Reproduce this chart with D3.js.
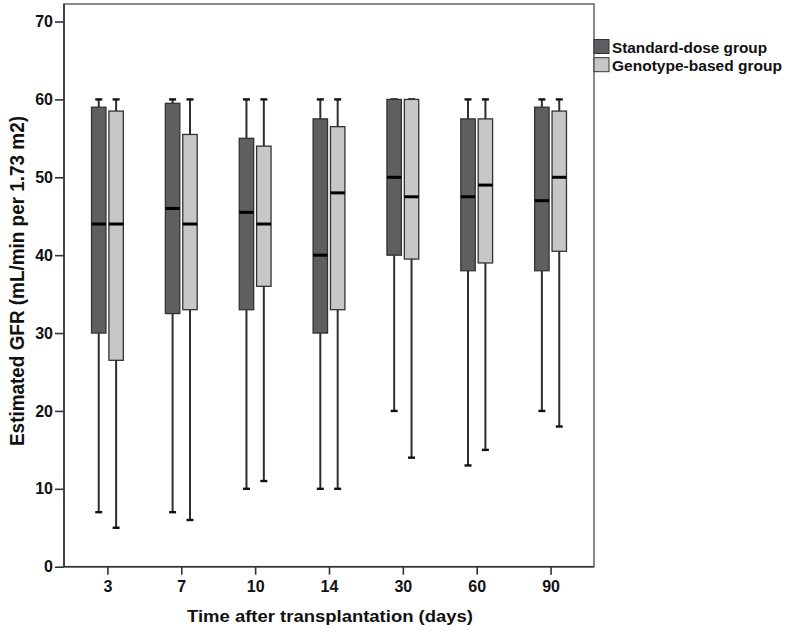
<!DOCTYPE html>
<html>
<head>
<meta charset="utf-8">
<script src="https://cdn.jsdelivr.net/npm/d3@7"></script>
<style>
  html, body { margin: 0; padding: 0; background: #fff; }
  svg { display: block; }
  text { font-family: "Liberation Sans", Arial, sans-serif; font-weight: bold; fill: #111; }
</style>
</head>
<body>
<svg id="chart" width="786" height="632"></svg>
<script>
// Days after transplantation (x categories)
const days = ["3", "7", "10", "14", "30", "60", "90"];
const groups = ["Standard-dose group", "Genotype-based group"];
const yTicks = [0, 10, 20, 30, 40, 50, 60, 70];

// Standard-dose group: five-number summaries per day
const stdMin    = [7, 7, 10, 10, 20, 13, 20];
const stdQ1     = [30, 32.5, 33, 30, 40, 38, 38];
const stdMedian = [44, 46, 45.5, 40, 50, 47.5, 47];
const stdQ3     = [59, 59.5, 55, 57.5, 60, 57.5, 59];
const stdMax    = [60, 60, 60, 60, 60, 60, 60];

// Genotype-based group: five-number summaries per day
const genoMin    = [5, 6, 11, 10, 14, 15, 18];
const genoQ1     = [26.5, 33, 36, 33, 39.5, 39, 40.5];
const genoMedian = [44, 44, 44, 48, 47.5, 49, 50];
const genoQ3     = [58.5, 55.5, 54, 56.5, 60, 57.5, 58.5];
const genoMax    = [60, 60, 60, 60, 60, 60, 60];

const groupColors = ["#5d5f61", "#c6c7c7"];

const stats = [
  { min: stdMin, q1: stdQ1, med: stdMedian, q3: stdQ3, max: stdMax },
  { min: genoMin, q1: genoQ1, med: genoMedian, q3: genoQ3, max: genoMax }
];

const boxes = [];
days.forEach((d, i) => {
  groups.forEach((g, j) => {
    const s = stats[j];
    boxes.push({ day: d, group: g, min: s.min[i], q1: s.q1[i], med: s.med[i], q3: s.q3[i], max: s.max[i] });
  });
});

const svg = d3.select("#chart");
const plotLeft = 64, plotRight = 594, plotTop = 4, plotBottom = 566.7;

const x = d3.scalePoint().domain(days).range([plotLeft, plotRight]).padding(0.588);
const xg = d3.scaleBand().domain(groups).range([-15.9, 15.9]).paddingInner(0.17);
const y = d3.scaleLinear().domain([0, 72.25]).range([plotBottom, plotTop]);
const color = d3.scaleOrdinal().domain(groups).range(groupColors);

// plot frame
svg.append("rect")
  .attr("x", plotLeft).attr("y", plotTop)
  .attr("width", plotRight - plotLeft).attr("height", plotBottom - plotTop)
  .attr("fill", "none").attr("stroke", "#6e6e6e").attr("stroke-width", 1.6);

// boxes
const bx = svg.append("g").selectAll("g").data(boxes).join("g")
  .attr("transform", d => `translate(${x(d.day) + xg(d.group)},0)`);
const bw = xg.bandwidth();

bx.append("line")
  .attr("x1", bw / 2).attr("x2", bw / 2)
  .attr("y1", d => y(d.min)).attr("y2", d => y(d.q1))
  .attr("stroke", "#2e2e2e").attr("stroke-width", 2);
bx.append("line")
  .attr("x1", bw / 2).attr("x2", bw / 2)
  .attr("y1", d => y(d.q3)).attr("y2", d => y(d.max))
  .attr("stroke", "#2e2e2e").attr("stroke-width", 2);
bx.append("line")
  .attr("x1", bw / 2 - 3.5).attr("x2", bw / 2 + 3.5)
  .attr("y1", d => y(d.min)).attr("y2", d => y(d.min))
  .attr("stroke", "#111").attr("stroke-width", 2.4);
bx.append("line")
  .attr("x1", bw / 2 - 3.5).attr("x2", bw / 2 + 3.5)
  .attr("y1", d => y(d.max)).attr("y2", d => y(d.max))
  .attr("stroke", "#111").attr("stroke-width", 2.4);
bx.append("rect")
  .attr("x", 0).attr("width", bw)
  .attr("y", d => y(d.q3)).attr("height", d => y(d.q1) - y(d.q3))
  .attr("fill", d => color(d.group))
  .attr("stroke", "#333").attr("stroke-width", 1.3);
bx.append("line")
  .attr("x1", 0).attr("x2", bw)
  .attr("y1", d => y(d.med)).attr("y2", d => y(d.med))
  .attr("stroke", "#000").attr("stroke-width", 3);

// axes
const yAxis = svg.append("g")
  .attr("transform", `translate(${plotLeft},0)`)
  .call(d3.axisLeft(y).tickValues(yTicks).tickFormat(d3.format("d")).tickSize(9).tickSizeOuter(0).tickPadding(2));
const xAxis = svg.append("g")
  .attr("transform", `translate(0,${plotBottom})`)
  .call(d3.axisBottom(x).tickSize(8).tickSizeOuter(0).tickPadding(6));

[yAxis, xAxis].forEach(a => {
  a.select(".domain").attr("stroke", "#333").attr("stroke-width", 1.6);
  a.selectAll(".tick line").attr("stroke", "#333").attr("stroke-width", 1.6);
  a.selectAll(".tick text").attr("font-size", 16).attr("fill", "#111")
    .attr("font-family", '"Liberation Sans", Arial, sans-serif').attr("font-weight", "bold");
});
xAxis.select(".domain").attr("d", `M${plotLeft},0H${plotRight}`);
yAxis.select(".domain").attr("d", `M0,${plotBottom}V${plotTop}`);

// axis titles
svg.append("text")
  .attr("x", 330).attr("y", 621.5)
  .attr("text-anchor", "middle")
  .attr("font-size", 16)
  .attr("textLength", 286).attr("lengthAdjust", "spacingAndGlyphs")
  .text("Time after transplantation (days)");

svg.append("text")
  .attr("transform", "translate(24,281) rotate(-90)")
  .attr("text-anchor", "middle")
  .attr("font-size", 20)
  .attr("textLength", 330).attr("lengthAdjust", "spacingAndGlyphs")
  .text("Estimated GFR (mL/min per 1.73 m2)");

// legend
const legend = svg.append("g").selectAll("g").data(groups).join("g")
  .attr("transform", (d, i) => `translate(594,${39.5 + i * 18.2})`);
legend.append("rect")
  .attr("width", 15).attr("height", 14)
  .attr("fill", d => color(d))
  .attr("stroke", "#333").attr("stroke-width", 1);
legend.append("text")
  .attr("x", 18).attr("y", 13)
  .attr("font-size", 14.5)
  .attr("textLength", (d, i) => [155, 170][i]).attr("lengthAdjust", "spacingAndGlyphs")
  .text(d => d);
</script>
</body>
</html>
